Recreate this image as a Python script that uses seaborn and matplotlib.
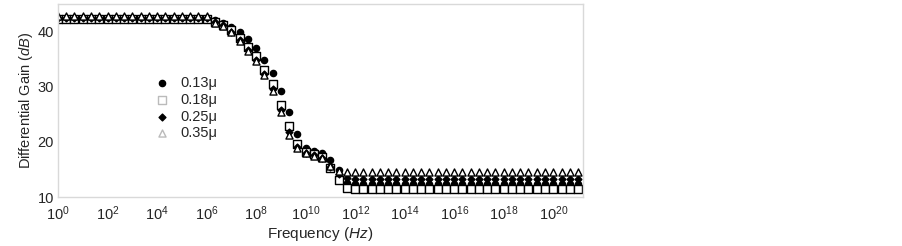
import numpy as np
import matplotlib
matplotlib.use("Agg")
import matplotlib.pyplot as plt
import seaborn as sns

# Frequency grid: 3 points per decade, 10^0 .. 10^21
freq = np.logspace(0, 21, 64)

labels = ["0.13\u03bc", "0.18\u03bc", "0.25\u03bc", "0.35\u03bc"]

# gain (dB), one value per frequency point
gain_013 = [42.4] * 19 + [42.0, 41.6, 40.9, 40.0, 38.7, 37.0, 34.9, 32.5, 29.3, 25.5, 21.5,
                          18.9, 18.4, 17.9, 16.8, 14.9, 12.5] + [12.3] * 28
gain_018 = [42.2] * 19 + [41.8, 41.2, 40.3, 38.9, 37.2, 35.5, 33.1, 30.4, 26.7, 22.8, 19.6,
                          18.2, 17.8, 17.3, 15.2, 13.0, 11.6] + [11.5] * 28
gain_025 = [42.4] * 19 + [41.7, 41.1, 40.0, 38.5, 36.7, 34.8, 32.3, 29.6, 25.8, 21.7, 19.1,
                          18.0, 17.6, 17.0, 15.4, 14.2, 13.4] + [13.3] * 28
gain_035 = [42.8] * 19 + [41.6, 41.0, 39.9, 38.3, 36.5, 34.6, 32.1, 29.3, 25.4, 21.3, 18.9,
                          17.9, 17.5, 17.0, 15.6, 14.8, 14.5] + [14.5] * 28

sns.set_style("white")
plt.rcParams["font.family"] = ["Liberation Sans", "DejaVu Sans"]
plt.rcParams["mathtext.fontset"] = "custom"
plt.rcParams["mathtext.rm"] = "Liberation Sans"
plt.rcParams["mathtext.it"] = "Liberation Sans:italic"

fig = plt.figure(figsize=(9.03, 2.46), dpi=100)
ax = fig.add_axes([0.0642, 0.199, 0.5814, 0.785])

styles = [
    (gain_013, "o", "black", "black", 20),
    (gain_018, "s", "white", "black", 26),
    (gain_025, "D", "black", "black", 12),
    (gain_035, "^", "white", "black", 26),
]
for (vals, mk, fc, ec, size), lab in zip(styles, labels):
    sns.scatterplot(x=freq, y=vals, marker=mk, s=size, color=fc, edgecolor=ec,
                    linewidth=1.0, label=lab, ax=ax)

ax.set_xscale("log")
ax.set_xlim(1, 10 ** 21.2)
ax.set_ylim(10, 45)
ax.set_xticks(10.0 ** np.arange(0, 21, 2))
ax.xaxis.set_minor_locator(matplotlib.ticker.NullLocator())
ax.set_yticks([10, 20, 30, 40])
ax.tick_params(axis="x", length=0, labelsize=10.5, pad=5)
ax.tick_params(axis="y", length=0, labelsize=10.5, pad=3)

ax.set_xlabel("Frequency ($\\it{Hz}$)", fontsize=11, labelpad=2)
ax.set_ylabel("Differential Gain ($\\it{dB}$)", fontsize=10.5, labelpad=2)

for sp in ax.spines.values():
    sp.set_color("#d9d9d9")
    sp.set_linewidth(1.0)

leg = ax.legend(loc="center left", bbox_to_anchor=(0.15, 0.46), frameon=False,
                fontsize=10.5, handletextpad=0.3, labelspacing=0.18, borderpad=0.2)
for h, fc in zip(leg.legend_handles, ["black", "white", "black", "white"]):
    h.set_edgecolor("black" if fc == "black" else "#bbbbbb")
    h.set_facecolor(fc)

fig.savefig("out.png", dpi=100)
